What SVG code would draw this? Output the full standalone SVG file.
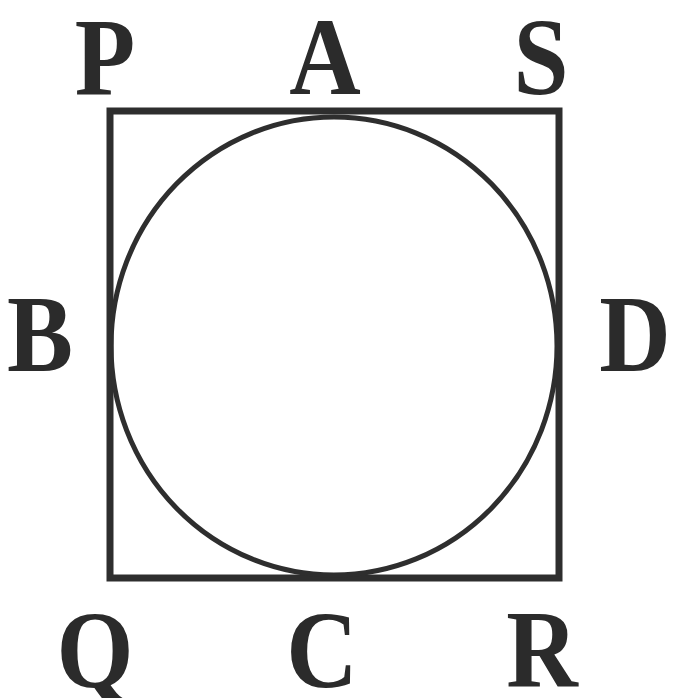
<svg xmlns="http://www.w3.org/2000/svg" width="675" height="698" viewBox="0 0 675 698">
<style>
.lbl{font-family:"Liberation Serif","Times New Roman",serif;font-weight:bold;font-size:110px;fill:#2b2b2b;text-anchor:middle}
.shape{fill:none;stroke:#2e2e2e}
</style>
<rect width="675" height="698" fill="#ffffff"/>
<g id="square"><rect class="shape" x="110" y="111" width="449" height="467" stroke-width="7"/></g>
<g id="circle"><ellipse class="shape" cx="334" cy="346" rx="223" ry="229" stroke-width="5"/></g>
<g id="labels">
<g id="P"><text class="lbl" transform="translate(105,94) scale(0.9,1)">P</text></g>
<g id="A"><text class="lbl" transform="translate(325,94) scale(0.9,1)">A</text></g>
<g id="S"><text class="lbl" transform="translate(541,94) scale(0.9,1)">S</text></g>
<g id="B"><text class="lbl" transform="translate(40,371) scale(0.9,1)">B</text></g>
<g id="D"><text class="lbl" transform="translate(635,371) scale(0.9,1)">D</text></g>
<g id="Q"><text class="lbl" transform="translate(95,687) scale(0.9,1)">Q</text></g>
<g id="C"><text class="lbl" transform="translate(322,687) scale(0.9,1)">C</text></g>
<g id="R"><text class="lbl" transform="translate(542,687) scale(0.9,1)">R</text></g>
</g>
</svg>
